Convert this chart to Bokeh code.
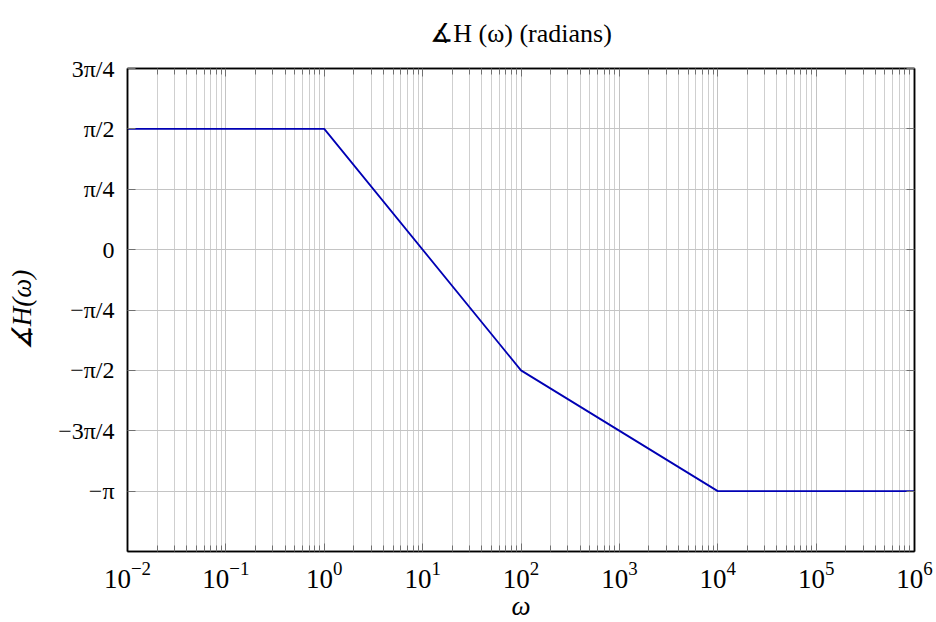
import numpy as np
from bokeh.plotting import figure
from bokeh.models import (FixedTicker, CustomJSTickFormatter, LogTickFormatter,
                          LogAxis, LinearAxis, Range1d)
from bokeh.embed import file_html
from bokeh.resources import INLINE

# ---- data ----
omega = [1e-2, 1e0, 1e2, 1e4, 1e6]
phase = [np.pi / 2, np.pi / 2, -np.pi / 2, -np.pi, -np.pi]

x_ticks = [1e-2, 1e-1, 1e0, 1e1, 1e2, 1e3, 1e4, 1e5, 1e6]
x_minor = [m * 10.0 ** e for e in range(-2, 6) for m in range(2, 10)]

y_ticks = [-np.pi, -3 * np.pi / 4, -np.pi / 2, -np.pi / 4, 0.0,
           np.pi / 4, np.pi / 2, 3 * np.pi / 4]
y_tick_labels = ["−π", "−3π/4", "−π/2", "−π/4", "0", "π/4", "π/2", "3π/4"]

title_text = "∡H (ω) (radians)"
x_label = "ω"
y_label = "∡H(ω)"

SERIF = "Liberation Serif"

p = figure(
    x_axis_type="log",
    x_range=Range1d(1e-2, 1e6),
    y_range=Range1d(-5 * np.pi / 4, 3 * np.pi / 4),
    frame_width=787, frame_height=483,
    min_border_left=127, min_border_right=20,
    min_border_top=68, min_border_bottom=70,
    output_backend="svg", toolbar_location=None,
    title=title_text,
)
p.background_fill_color = "white"
p.border_fill_color = "white"
p.outline_line_color = "black"
p.outline_line_width = 1.5

p.title.align = "center"
p.title.vertical_align = "top"
p.title.text_font = SERIF
p.title.text_font_size = "26px"
p.title.text_font_style = "normal"
p.title.text_color = "black"
p.title.standoff = 37

xtick = FixedTicker(ticks=x_ticks, minor_ticks=x_minor)
ytick = FixedTicker(ticks=y_ticks, minor_ticks=[])

y_fmt = CustomJSTickFormatter(args=dict(tv=y_ticks, lab=y_tick_labels), code="""
let best = 0, bd = Infinity;
for (let i = 0; i < tv.length; i++) {
  const d = Math.abs(tv[i] - tick);
  if (d < bd) { bd = d; best = i; }
}
return lab[best];
""")

def style_axis(ax):
    ax.axis_line_color = "black"
    ax.axis_line_width = 1.5
    ax.major_tick_in = 8
    ax.major_tick_out = 0
    ax.minor_tick_in = 6
    ax.minor_tick_out = 0
    ax.major_tick_line_color = "#707070"
    ax.minor_tick_line_color = "#707070"
    ax.major_label_text_font = SERIF
    ax.major_label_text_font_size = "27px"
    ax.major_label_text_color = "black"
    ax.axis_label_text_font = SERIF
    ax.axis_label_text_font_size = "27px"
    ax.axis_label_text_font_style = "italic"
    ax.axis_label_text_color = "black"

xa = p.xaxis[0]
xa.ticker = xtick
xa.formatter = LogTickFormatter()
xa.axis_label = x_label
style_axis(xa)
xa.major_label_standoff = 10
xa.axis_label_standoff = 0

ya = p.yaxis[0]
ya.ticker = ytick
ya.formatter = y_fmt
ya.axis_label = y_label
style_axis(ya)
ya.major_label_text_font_size = "24px"
ya.major_label_standoff = 13
ya.axis_label_standoff = 18

top = LogAxis(ticker=xtick, formatter=CustomJSTickFormatter(code="return '';"))
style_axis(top)
top.major_label_text_font_size = "0px"
top.major_label_standoff = 0
p.add_layout(top, "above")

right = LinearAxis(ticker=ytick, formatter=CustomJSTickFormatter(code="return '';"))
style_axis(right)
right.major_label_text_font_size = "0px"
right.major_label_standoff = 0
p.add_layout(right, "right")

p.xgrid.ticker = xtick
p.ygrid.ticker = ytick
p.xgrid.grid_line_color = "#c4c4c4"
p.xgrid.minor_grid_line_color = "#cfcfcf"
p.ygrid.grid_line_color = "#c4c4c4"
p.xgrid.grid_line_width = 1
p.ygrid.grid_line_width = 1

p.line(omega, phase, line_color="#0000b4", line_width=1.8)

open("out.html", "w").write(file_html(p, INLINE))
